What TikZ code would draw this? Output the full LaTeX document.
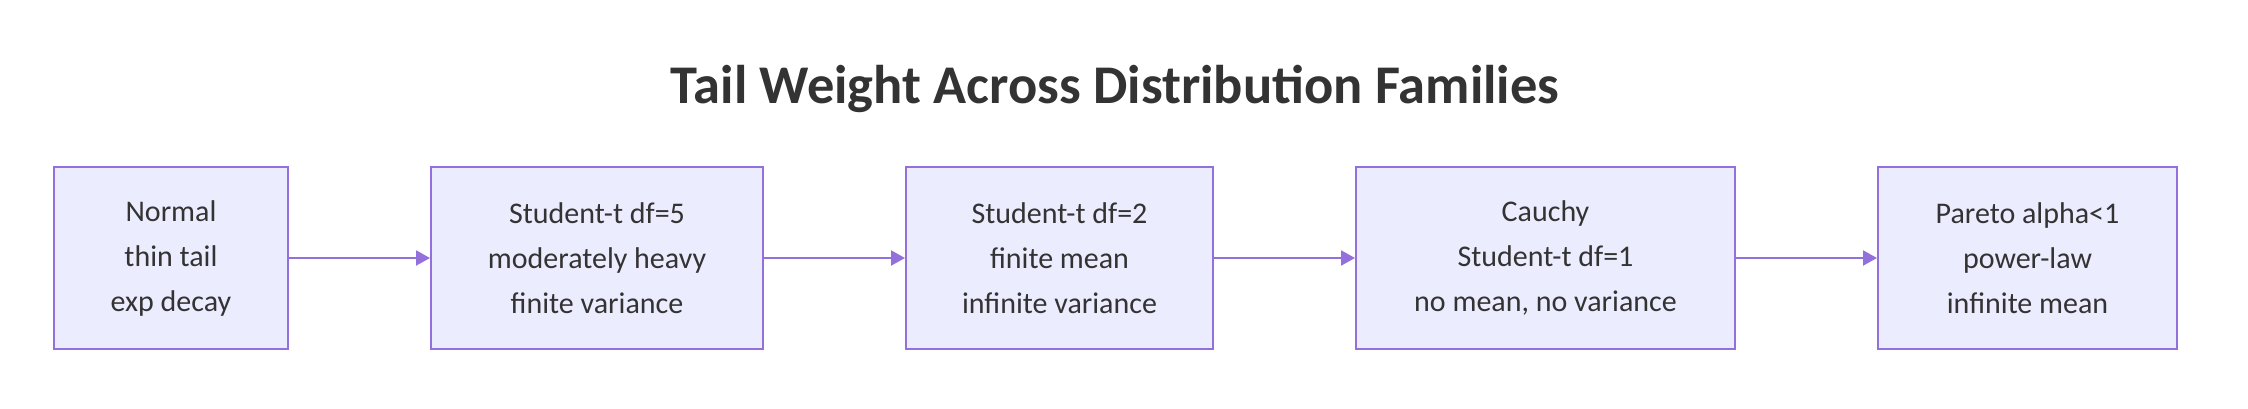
\documentclass[tikz,border=0pt]{standalone}
\usepackage{fontspec}
\setmainfont{Carlito}
\usepackage{xcolor}
\usetikzlibrary{positioning,arrows.meta}
\definecolor{boxfill}{HTML}{ECECFF}
\definecolor{boxline}{HTML}{9370DB}
\definecolor{textgray}{HTML}{333333}
\tikzset{
  family/.style={draw=boxline, fill=boxfill, line width=2pt, minimum height=182pt,
    align=center, text=textgray, inner sep=0pt,
    font=\fontsize{30}{45}\selectfont},
  link/.style={draw=boxline, line width=2pt, -{Triangle[length=14pt,width=15pt]}}
}
\begin{document}
\begin{tikzpicture}[x=1pt,y=1pt,node distance=141pt]

\useasboundingbox (0,0) rectangle (2248,-408);

\node[text=textgray, font=\bfseries\fontsize{54.5}{60}\selectfont] (title) at (1115,-89) {Tail Weight Across Distribution Families};

\node[family, minimum width=234pt] (normal) at (171,-258) {Normal\\thin tail\\exp decay};
\node[family, minimum width=332pt, right=of normal] (tfive) {Student-t df=5\\moderately heavy\\finite variance};
\node[family, minimum width=307pt, right=of tfive] (ttwo) {Student-t df=2\\finite mean\\infinite variance};
\node[family, minimum width=379pt, right=of ttwo] (cauchy) {Cauchy\\Student-t df=1\\no mean, no variance};
\node[family, minimum width=299pt, right=of cauchy] (pareto) {Pareto alpha<1\\power-law\\infinite mean};

\draw[link] (normal) -- (tfive);
\draw[link] (tfive) -- (ttwo);
\draw[link] (ttwo) -- (cauchy);
\draw[link] (cauchy) -- (pareto);

\end{tikzpicture}
\end{document}
